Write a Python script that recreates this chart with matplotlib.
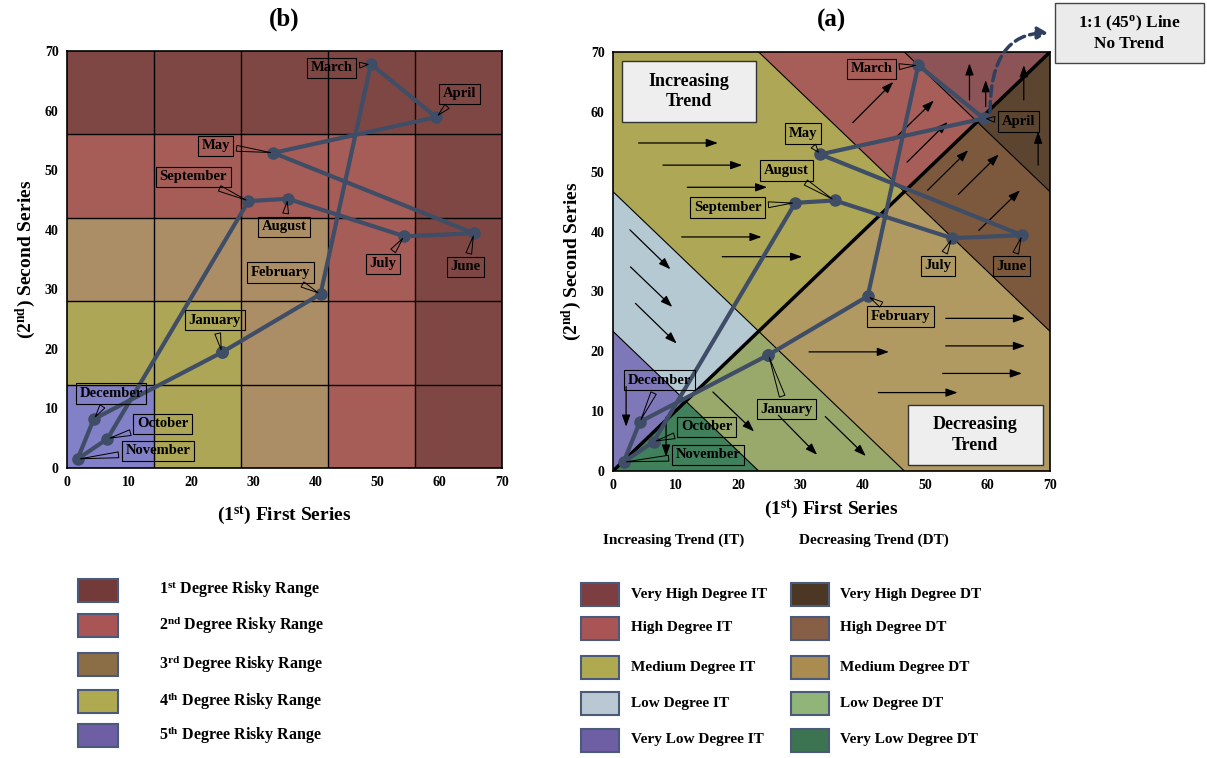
import numpy as np
import matplotlib
matplotlib.use("Agg")
import matplotlib.pyplot as plt
from matplotlib.colors import ListedColormap, to_rgb
from matplotlib.patches import Rectangle

plt.rcParams['font.family'] = 'Liberation Serif'
plt.rcParams['font.weight'] = 'bold'
plt.rcParams['axes.titleweight'] = 'bold'
plt.rcParams['axes.labelweight'] = 'bold'
plt.rcParams['mathtext.fontset'] = 'custom'
plt.rcParams['mathtext.rm'] = 'Liberation Serif:bold'
plt.rcParams['mathtext.bf'] = 'Liberation Serif:bold'
plt.rcParams['mathtext.default'] = 'bf'

# data
months = ["January", "February", "March", "April", "May", "June",
          "July", "August", "September", "October", "November", "December"]
first_series = [24.9, 40.8, 48.9, 59.4, 33.2, 65.5, 54.3, 35.5, 29.2, 6.5, 1.7, 4.3]
second_series = [19.4, 29.2, 67.8, 58.9, 52.9, 39.4, 38.9, 45.2, 44.8, 4.9, 1.5, 8.2]

# label box centres
lab_b = [(23.8, 24.8), (34.3, 32.8), (42.6, 67.2), (63.2, 62.8), (23.9, 54.1), (64.1, 33.8),
         (50.9, 34.3), (34.9, 40.5), (20.3, 48.9), (15.4, 7.4), (14.6, 2.9), (7.1, 12.5)]
lab_a = [(27.8, 10.3), (46.1, 25.8), (41.4, 67.2), (64.9, 58.4), (30.4, 56.4), (63.8, 34.2),
         (52.1, 34.3), (27.8, 50.2), (18.4, 44.0), (15.0, 7.4), (15.2, 2.7), (7.5, 15.2)]

risk_labels = ["1$^{st}$ Degree Risky Range", "2$^{nd}$ Degree Risky Range",
               "3$^{rd}$ Degree Risky Range", "4$^{th}$ Degree Risky Range",
               "5$^{th}$ Degree Risky Range"]
risk_legend_cols = ["#733A3A", "#AA5555", "#8C6E46", "#AFAA50", "#6E5FA5"]
risk_plot_cols = ["#7F4743", "#A65D57", "#AC8E66", "#ACA656", "#8280C6"]
grid_edges = [0, 14, 28, 42, 56, 70]

it_labels = ["Very High Degree IT", "High Degree IT", "Medium Degree IT",
             "Low Degree IT", "Very Low Degree IT"]
dt_labels = ["Very High Degree DT", "High Degree DT", "Medium Degree DT",
             "Low Degree DT", "Very Low Degree DT"]
it_legend_cols = ["#7D3E41", "#AA5555", "#AFAA50", "#B9C8D2", "#6E5FA5"]
dt_legend_cols = ["#4B3723", "#875F46", "#AA8C50", "#91B478", "#3C7350"]
it_plot_cols = ["#8C5456", "#A85E58", "#ADA756", "#B5C9D3", "#7F78B8"]
dt_plot_cols = ["#5C4530", "#7C593D", "#B09A62", "#98A96B", "#40805A"]
band_edges = [70/3, 140/3, 280/3, 350/3]

# arrows in panel (a): x0, y0, x1, y1
arrows = [(4.1, 54.8, 16.8, 54.8), (8.0, 51.1, 20.7, 51.1), (11.9, 47.4, 24.7, 47.4),
          (11.0, 39.1, 23.8, 39.1), (17.5, 35.8, 30.3, 35.8),
          (2.7, 40.3, 9.2, 33.7), (2.8, 34.1, 9.5, 27.4), (3.6, 28.0, 10.2, 21.3),
          (2.1, 14.1, 2.1, 7.4), (8.5, 9.0, 8.5, 2.4),
          (16.0, 13.2, 22.6, 6.6), (26.5, 9.3, 32.7, 2.7), (34.0, 9.1, 40.5, 2.5),
          (53.3, 25.5, 66.0, 25.5), (53.3, 20.9, 66.0, 20.9), (52.8, 16.3, 65.5, 16.3),
          (42.5, 13.1, 55.2, 13.1), (31.4, 19.9, 44.2, 19.9),
          (38.4, 58.2, 44.9, 65.0), (44.9, 55.3, 51.4, 61.9), (47.1, 51.6, 53.6, 58.3),
          (50.4, 46.9, 56.9, 53.6), (55.3, 46.2, 61.8, 52.9), (58.6, 40.2, 65.2, 46.9),
          (57.1, 62.0, 57.1, 68.1), (59.7, 60.9, 59.7, 65.3),
          (65.8, 62.0, 65.8, 67.8), (68.1, 51.1, 68.1, 56.7)]

W, H = 1207, 758
fig = plt.figure(figsize=(W/100, H/100), dpi=100)
axb = fig.add_axes([67/W, 1-468/H, 435/W, 417/H])
axa = fig.add_axes([613/W, 1-471/H, 437/W, 419/H])

line_col = "#3F4D66"
xs = first_series + first_series[:1]
ys = second_series + second_series[:1]


def style_axes(ax, title, xpad):
    ax.set_xlim(0, 70)
    ax.set_ylim(0, 70)
    ax.set_xticks(range(0, 71, 10))
    ax.set_yticks(range(0, 71, 10))
    ax.tick_params(length=0, labelsize=10, pad=6)
    ax.set_xlabel("(1$^{st}$) First Series", fontsize=14, labelpad=xpad)
    ax.set_ylabel("(2$^{nd}$) Second Series", fontsize=14, labelpad=5)
    ax.set_title(title, fontsize=18, pad=18)
    for s in ax.spines.values():
        s.set_linewidth(1.2)


def month_labels(ax, positions):
    for m, x, y, (tx, ty) in zip(months, first_series, second_series, positions):
        ax.annotate(m, xy=(x, y), xytext=(tx, ty), ha='center', va='center',
                    fontsize=10.5, zorder=7,
                    bbox=dict(boxstyle='square,pad=0.25', fc='none', ec='black', lw=0.8),
                    arrowprops=dict(arrowstyle='wedge,tail_width=0.4,shrink_factor=0.5',
                                    fc='none', ec='black', lw=0.7, shrinkB=2))


# panel (b)
deg = np.maximum.outer(np.arange(5), np.arange(5))
axb.pcolormesh(grid_edges, grid_edges, deg, cmap=ListedColormap(risk_plot_cols[::-1]),
               vmin=-0.5, vmax=4.5)
for e in grid_edges[1:-1]:
    axb.axvline(e, color='black', lw=1)
    axb.axhline(e, color='black', lw=1)
axb.plot(xs, ys, color=line_col, lw=3, marker='o', ms=8, zorder=5)
month_labels(axb, lab_b)
style_axes(axb, "(b)", 11)

# panel (a)
g = np.linspace(0, 70, 1200)
X, Y = np.meshgrid(g, g)
band = 4 - np.digitize(X + Y, band_edges)
img = np.zeros(X.shape + (3,))
above = Y >= X
for i in range(5):
    img[(band == i) & above] = to_rgb(it_plot_cols[i])
    img[(band == i) & ~above] = to_rgb(dt_plot_cols[i])
axa.imshow(img, origin='lower', extent=(0, 70, 0, 70), interpolation='nearest', aspect='auto')
for c in band_edges:
    x0, x1 = max(0, c - 70), min(70, c)
    axa.plot([x0, x1], [c - x0, c - x1], color='black', lw=0.8, zorder=2)
axa.plot([0, 70], [0, 70], color='black', lw=2.5, zorder=3)
for x0, y0, x1, y1 in arrows:
    axa.annotate('', xy=(x1, y1), xytext=(x0, y0), zorder=4,
                 arrowprops=dict(arrowstyle='-|>,head_length=0.7,head_width=0.25',
                                 color='black', lw=0.9, shrinkA=0, shrinkB=0))
axa.plot(xs, ys, color=line_col, lw=3, marker='o', ms=8, zorder=5)
month_labels(axa, lab_a)
style_axes(axa, "(a)", 4)

axa.add_patch(Rectangle((1.4, 58.3), 21.5, 10.2, fc='#EEEEEE', ec='#333333', lw=1, zorder=6))
axa.text(12.15, 63.4, "Increasing\nTrend", ha='center', va='center', fontsize=13,
         linespacing=1.3, zorder=7)
axa.add_patch(Rectangle((47.2, 1.0), 21.6, 10.1, fc='#EEEEEE', ec='#333333', lw=1, zorder=6))
axa.text(58.0, 6.05, "Decreasing\nTrend", ha='center', va='center', fontsize=13,
         linespacing=1.3, zorder=7)

# 1:1 line note
fig.add_artist(Rectangle((1055/W, 1-63/H), 149/W, 60/H, transform=fig.transFigure,
                         fc='#EBEBEB', ec='#444444', lw=1))
fig.text(1129.5/W, 1-33/H, "1:1 (45$^{o}$) Line\nNo Trend", ha='center', va='center',
         fontsize=12.5, linespacing=1.2)
axa.annotate('', xy=(1048/W, 1-33/H), xycoords='figure fraction', xytext=(60.4, 60.0),
             textcoords='data', annotation_clip=False, zorder=8,
             arrowprops=dict(arrowstyle='-|>,head_length=0.6,head_width=0.35',
                             connectionstyle='angle3,angleA=90,angleB=0',
                             color='#2E3F5F', lw=2.5, linestyle=(0, (3, 1.5)),
                             shrinkA=0, shrinkB=0))

# legends
rows_l = [590, 625, 664, 701, 735]
for y, col, lab in zip(rows_l, risk_legend_cols, risk_labels):
    fig.add_artist(Rectangle((78/W, 1-(y+11.5)/H), 40/W, 23/H, transform=fig.transFigure,
                             fc=col, ec='#4A5A7A', lw=1.5))
    fig.text(159/W, 1-y/H, lab, ha='left', va='center', fontsize=11.5)

fig.text(603/W, 1-540/H, "Increasing Trend (IT)", ha='left', va='center', fontsize=11)
fig.text(799/W, 1-540/H, "Decreasing Trend (DT)", ha='left', va='center', fontsize=11)
rows_r = [594.5, 628, 667, 703, 740]
for y, c1, l1, c2, l2 in zip(rows_r, it_legend_cols, it_labels, dt_legend_cols, dt_labels):
    fig.add_artist(Rectangle((581/W, 1-(y+11.5)/H), 38/W, 23/H, transform=fig.transFigure,
                             fc=c1, ec='#4A5A7A', lw=1.5))
    fig.text(631/W, 1-y/H, l1, ha='left', va='center', fontsize=11)
    fig.add_artist(Rectangle((791/W, 1-(y+11.5)/H), 38/W, 23/H, transform=fig.transFigure,
                             fc=c2, ec='#4A5A7A', lw=1.5))
    fig.text(840/W, 1-y/H, l2, ha='left', va='center', fontsize=11)

fig.savefig("out.png", dpi=100)
